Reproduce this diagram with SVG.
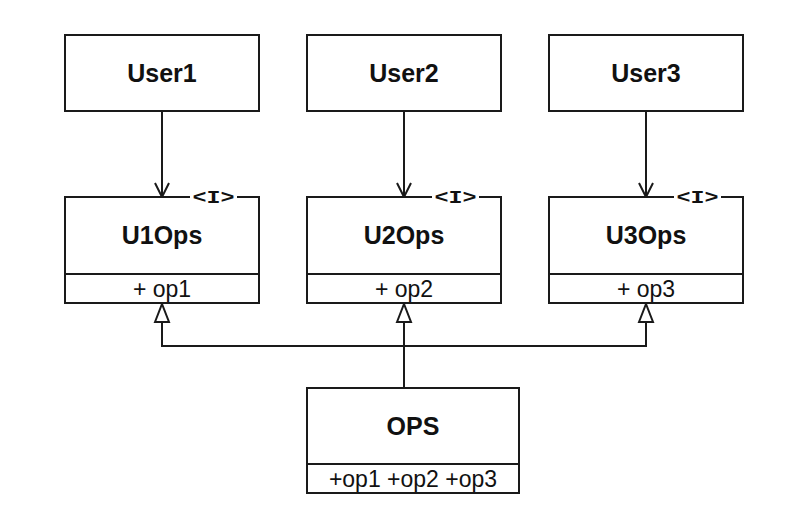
<svg xmlns="http://www.w3.org/2000/svg" width="800" height="519" viewBox="0 0 800 519">
<style>
.box{fill:#fff;stroke:#1a1a1a;stroke-width:2}
.ln{fill:none;stroke:#1a1a1a;stroke-width:2}
.t{font-family:"Liberation Sans",Arial,sans-serif;font-weight:bold;font-size:25px;fill:#111;text-anchor:middle}
.op{font-family:"Liberation Sans",Arial,sans-serif;font-size:23px;fill:#111;text-anchor:middle}
.st{font-family:"Liberation Mono","Courier New",monospace;font-weight:bold;font-size:18px;fill:#111;text-anchor:middle}
</style>
<defs>
<marker id="open" viewBox="0 0 16 16" refX="15" refY="8" markerWidth="16" markerHeight="16" markerUnits="userSpaceOnUse" orient="auto">
<path d="M1,1 L15,8 L1,15" fill="none" stroke="#1a1a1a" stroke-width="2"/>
</marker>
<marker id="tri" viewBox="0 0 20 18" refX="19" refY="9" markerWidth="20" markerHeight="18" markerUnits="userSpaceOnUse" orient="auto">
<path d="M1,2 L19,9 L1,16 Z" fill="#fff" stroke="#1a1a1a" stroke-width="2"/>
</marker>
</defs>
<rect width="800" height="519" fill="#fff"/>
<g id="user1"><rect class="box" x="65" y="35" width="194" height="76"/><text class="t" x="162" y="82">User1</text></g>
<g id="user2"><rect class="box" x="307" y="35" width="194" height="76"/><text class="t" x="404" y="82">User2</text></g>
<g id="user3"><rect class="box" x="549" y="35" width="194" height="76"/><text class="t" x="646" y="82">User3</text></g>
<g id="u1ops">
<path class="ln" d="M190,197 L65,197 L65,303 L259,303 L259,197 L237,197"/>
<line class="ln" x1="65" y1="274" x2="259" y2="274"/>
<text class="st" transform="translate(213.5,203) scale(1.3,1)">&lt;I&gt;</text>
<text class="t" x="162" y="244">U1Ops</text>
<text class="op" x="162" y="297">+ op1</text>
</g>
<g id="u2ops">
<path class="ln" d="M432,197 L307,197 L307,303 L501,303 L501,197 L479,197"/>
<line class="ln" x1="307" y1="274" x2="501" y2="274"/>
<text class="st" transform="translate(455.5,203) scale(1.3,1)">&lt;I&gt;</text>
<text class="t" x="404" y="244">U2Ops</text>
<text class="op" x="404" y="297">+ op2</text>
</g>
<g id="u3ops">
<path class="ln" d="M674,197 L549,197 L549,303 L743,303 L743,197 L721,197"/>
<line class="ln" x1="549" y1="274" x2="743" y2="274"/>
<text class="st" transform="translate(697.5,203) scale(1.3,1)">&lt;I&gt;</text>
<text class="t" x="646" y="244">U3Ops</text>
<text class="op" x="646" y="297">+ op3</text>
</g>
<g id="ops">
<rect class="box" x="307" y="388" width="212" height="105"/>
<line class="ln" x1="307" y1="464" x2="519" y2="464"/>
<text class="t" x="413" y="435">OPS</text>
<text class="op" x="413" y="487">+op1 +op2 +op3</text>
</g>
<g id="connectors">
<line class="ln" x1="162" y1="111" x2="162" y2="197" marker-end="url(#open)"/>
<line class="ln" x1="404" y1="111" x2="404" y2="197" marker-end="url(#open)"/>
<line class="ln" x1="646" y1="111" x2="646" y2="197" marker-end="url(#open)"/>
<polyline class="ln" points="404,388 404,346 404,304" marker-end="url(#tri)"/>
<polyline class="ln" points="404,346 162,346 162,304" marker-end="url(#tri)"/>
<polyline class="ln" points="404,346 646,346 646,304" marker-end="url(#tri)"/>
</g>
</svg>
